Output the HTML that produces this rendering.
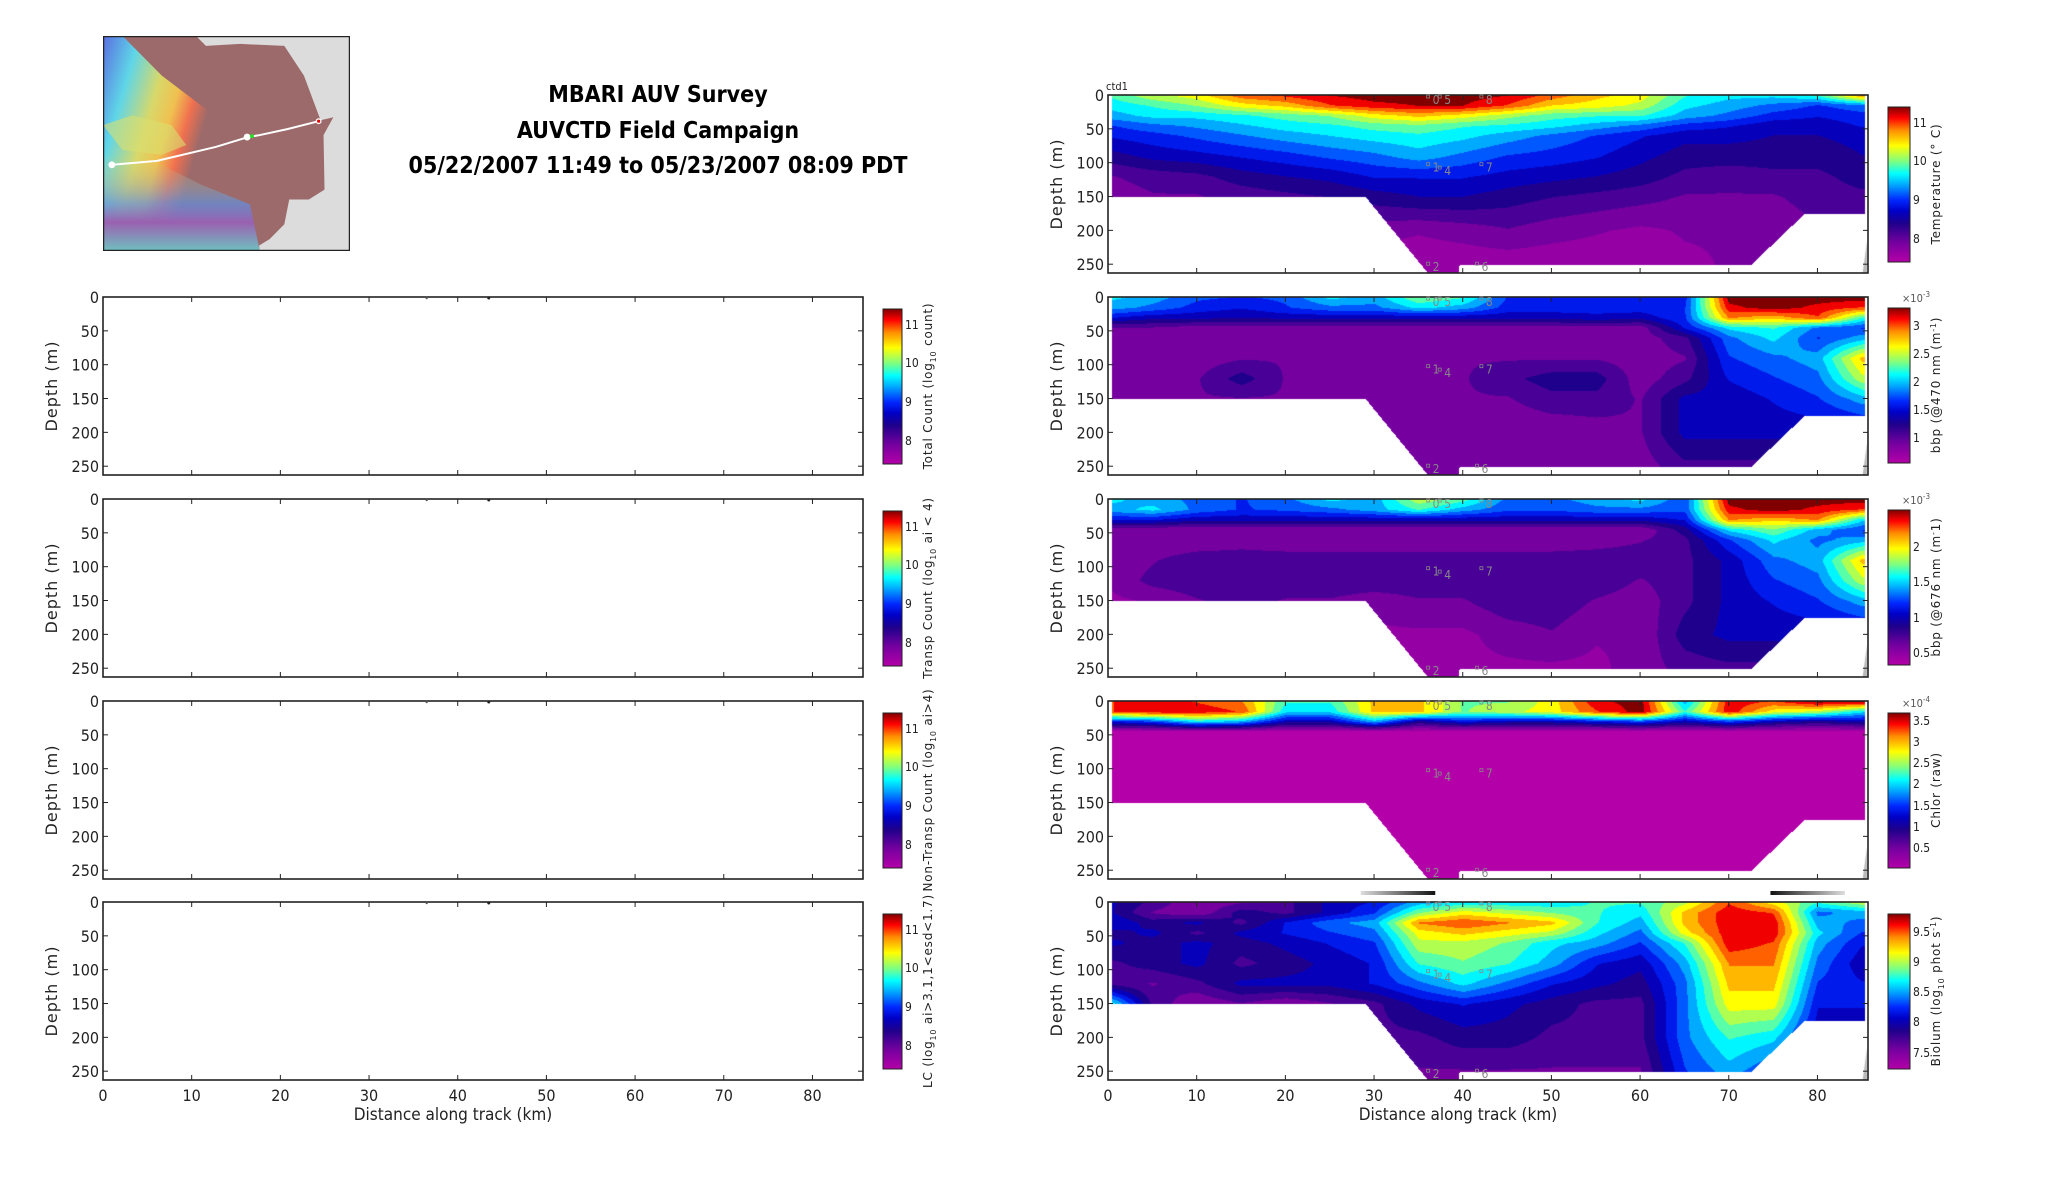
<!DOCTYPE html>
<html><head><meta charset="utf-8">
<style>
html,body{margin:0;padding:0;background:#fff;}
#root{position:relative;width:2052px;height:1188px;overflow:hidden;background:#fff;font-family:"DejaVu Sans Condensed","Liberation Sans Narrow","Liberation Sans",sans-serif;}
canvas{position:absolute;}
#ov{position:absolute;left:0;top:0;}
</style></head>
<body>
<div id="root">
<svg id="map" style="position:absolute;left:103px;top:36px" width="247" height="215" viewBox="0 0 252 217" preserveAspectRatio="none">
<defs>
<linearGradient id="mg" x1="0" y1="0" x2="1" y2="0.4">
<stop offset="0" stop-color="#5a6de0"/><stop offset="0.2" stop-color="#5fd6e8"/><stop offset="0.38" stop-color="#d8d86a"/><stop offset="0.5" stop-color="#f0c050"/><stop offset="0.6" stop-color="#f07050"/><stop offset="0.7" stop-color="#9c6a6a"/>
</linearGradient>
<linearGradient id="mg2" x1="0" y1="0" x2="0" y2="1">
<stop offset="0" stop-color="#e0d070" stop-opacity="0"/><stop offset="0.5" stop-color="#6090e0" stop-opacity="0.7"/><stop offset="0.7" stop-color="#9a60b0"/><stop offset="1" stop-color="#70c0c0"/>
</linearGradient>
</defs>
<rect width="252" height="217" fill="#dcdcdc"/>
<path d="M0,0 L95,0 L105,10 L140,8 L185,10 L205,40 L222,85 L235,82 L225,100 L226,155 L210,165 L190,165 L185,190 L170,205 L150,217 L0,217 Z" fill="#9c6a6a"/>
<path d="M0,0 L20,0 L60,40 L100,70 L130,90 L140,80 L155,100 L150,140 L160,217 L0,217 Z" fill="url(#mg)"/>
<path d="M0,120 L60,130 L100,150 L150,170 L160,217 L0,217 Z" fill="url(#mg2)"/>
<path d="M0,90 L30,80 L70,90 L85,110 L60,120 L20,115 Z" fill="#d8e070" opacity="0.6"/>
<polyline points="9,130 55,126 115,112 148,102 160,100 188,94 220,86" fill="none" stroke="#fff" stroke-width="2"/>
<circle cx="9" cy="130" r="3.5" fill="#fff"/><circle cx="147" cy="102" r="3.5" fill="#fff"/>
<circle cx="152" cy="101" r="2" fill="#20e020"/><circle cx="220" cy="86" r="3" fill="#fff"/><circle cx="220" cy="86" r="1.6" fill="#e00000"/>
<rect x="0.5" y="0.5" width="251" height="216" fill="none" stroke="#222" stroke-width="1.5"/>
</svg>
<div style="position:absolute;left:358px;top:78px;width:600px;text-align:center;font-family:'DejaVu Sans Condensed','Liberation Sans',sans-serif;font-weight:bold;font-size:23px;line-height:35.7px;color:#000">MBARI AUV Survey<br>AUVCTD Field Campaign<br>05/22/2007 11:49 to 05/23/2007 08:09 PDT</div>
<svg id="ov" width="2052" height="1188"></svg>
</div>
<script>
// ---- data ----
const colKm = [0,5,10,15,20,25,30,35,40,45,50,55,60,65,70,75,80,85];
const rowDepth = [0,15,30,45,60,90,120,150,200,250];
const bottomKm = [0.4,29,36,39.5,39.6,72.5,78.5,85.3];
const bottomDepth = [150,150,262,262,250,250,175,175];
const xTicks = [0,10,20,30,40,50,60,70,80];
const yTicks = [0,50,100,150,200,250];
const tempGrid = [
[.6,.7,.75,.88,.92,.97,1,1,1,.97,.88,.8,.75,.6,.55,.55,.6,.85],
[.55,.6,.66,.75,.8,.9,.95,.97,.97,.9,.78,.75,.7,.55,.5,.45,.4,.45],
[.5,.55,.55,.58,.62,.66,.75,.8,.75,.68,.62,.6,.6,.5,.45,.38,.35,.38],
[.4,.45,.48,.52,.56,.58,.62,.64,.6,.58,.55,.5,.45,.38,.35,.3,.3,.35],
[.35,.38,.42,.46,.5,.53,.56,.58,.55,.5,.45,.4,.35,.3,.3,.28,.28,.3],
[.25,.3,.32,.35,.38,.42,.45,.5,.45,.4,.38,.35,.3,.25,.25,.25,.25,.28],
[.15,.18,.2,.25,.28,.3,.35,.35,.35,.32,.3,.28,.25,.2,.18,.2,.2,.25],
[.12,.15,.15,.18,.2,.22,.25,.28,.28,.25,.22,.2,.18,.15,.15,.15,.18,.2],
[.1,.1,.1,.1,.1,.1,.12,.1,.12,.15,.12,.1,.08,.1,.1,.12,.15,.15],
[.05,.05,.05,.05,.05,.05,.05,.05,.05,.05,.05,.05,.05,.08,.1,.1,.1,.1]];
const bbp470Grid = [
[.55,.5,.42,.4,.42,.55,.5,.65,.6,.4,.4,.4,.38,.38,1,1,1,1],
[.5,.45,.38,.35,.4,.45,.45,.55,.5,.38,.38,.38,.38,.4,.95,1,.95,.9],
[.35,.3,.3,.28,.3,.3,.3,.3,.3,.3,.3,.32,.3,.4,.85,.8,.9,.6],
[.15,.15,.12,.12,.12,.12,.12,.12,.12,.12,.12,.12,.12,.35,.55,.6,.45,.4],
[.15,.12,.12,.12,.12,.12,.15,.15,.15,.15,.15,.15,.12,.2,.45,.55,.4,.5],
[.15,.12,.12,.15,.15,.15,.15,.15,.15,.15,.15,.15,.12,.15,.4,.45,.5,.8],
[.12,.15,.15,.25,.15,.15,.15,.15,.15,.2,.25,.25,.12,.2,.35,.4,.45,.7],
[.12,.15,.15,.15,.15,.15,.15,.15,.15,.15,.2,.2,.15,.3,.3,.35,.4,.5],
[.1,.1,.1,.1,.1,.1,.1,.1,.12,.1,.1,.12,.15,.3,.3,.3,.3,.3],
[.1,.1,.1,.1,.1,.1,.1,.15,.1,.1,.1,.1,.12,.2,.2,.2,.2,.2]];
const bbp676Grid = [
[.55,.5,.45,.4,.45,.55,.5,.7,.62,.45,.45,.5,.55,.42,1,1,1,1],
[.5,.55,.45,.4,.42,.45,.5,.6,.5,.42,.42,.45,.45,.42,.95,1,.95,.9],
[.35,.35,.3,.3,.3,.3,.3,.3,.3,.3,.3,.3,.3,.35,.85,.8,.85,.55],
[.1,.1,.1,.1,.1,.1,.1,.1,.1,.1,.1,.1,.1,.25,.55,.65,.5,.4],
[.1,.1,.1,.12,.1,.1,.1,.1,.1,.1,.1,.12,.15,.2,.4,.55,.45,.5],
[.1,.15,.2,.2,.2,.2,.2,.2,.2,.2,.2,.2,.2,.2,.3,.45,.5,.8],
[.1,.18,.2,.2,.2,.2,.2,.2,.2,.2,.2,.2,.15,.2,.3,.4,.45,.7],
[.08,.1,.15,.18,.15,.15,.12,.15,.15,.2,.2,.15,.12,.2,.3,.35,.4,.5],
[.08,.08,.08,.08,.08,.08,.08,.08,.08,.12,.15,.1,.1,.25,.3,.3,.3,.3],
[.08,.08,.08,.08,.08,.08,.08,.08,.08,.08,.08,.08,.12,.18,.2,.2,.2,.2]];
const chlorGrid = [
[.9,.95,.9,.85,.6,.6,.8,.8,.65,.65,.75,.95,1,.5,.95,.9,1,1],
[.9,.95,.95,.9,.55,.55,.8,.8,.65,.7,.75,.9,1,.6,.95,.75,.7,.55],
[.35,.4,.55,.5,.3,.3,.5,.25,.35,.3,.3,.35,.4,.3,.4,.3,.25,.3],
[0,0,0,0,0,0,0,0,0,0,0,0,0,0,0,0,0,0],
[0,0,0,0,0,0,0,0,0,0,0,0,0,0,0,0,0,0],
[0,0,0,0,0,0,0,0,0,0,0,0,0,0,0,0,0,0],
[0,0,0,0,0,0,0,0,0,0,0,0,0,0,0,0,0,0],
[0,0,0,0,0,0,0,0,0,0,0,0,0,0,0,0,0,0],
[0,0,0,0,0,0,0,0,0,0,0,0,0,0,0,0,0,0],
[0,0,0,0,0,0,0,0,0,0,0,0,0,0,0,0,0,0]];
const biolumGrid = [
[.3,.2,.1,.15,.2,.3,.35,.5,.55,.55,.55,.6,.6,.7,.9,.75,.6,.7],
[.3,.15,.1,.25,.2,.3,.4,.65,.75,.7,.65,.6,.55,.8,.95,.9,.45,.5],
[.35,.25,.3,.2,.35,.45,.5,.85,.9,.85,.8,.6,.5,.8,.95,.95,.5,.45],
[.25,.3,.2,.3,.35,.4,.45,.75,.8,.75,.7,.55,.45,.75,.95,.95,.55,.4],
[.3,.25,.3,.25,.3,.35,.4,.7,.7,.65,.55,.5,.4,.6,.95,.9,.5,.35],
[.2,.25,.3,.2,.25,.3,.35,.6,.65,.6,.5,.35,.3,.5,.85,.85,.45,.3],
[.2,.15,.2,.3,.3,.3,.35,.45,.55,.45,.35,.3,.25,.45,.8,.8,.4,.35],
[.6,.2,.1,.15,.1,.15,.2,.3,.35,.3,.25,.2,.2,.45,.75,.75,.35,.35],
[.2,.2,.2,.2,.2,.2,.2,.2,.25,.25,.2,.2,.2,.45,.6,.55,.3,.3],
[.15,.15,.15,.15,.15,.15,.15,.15,.15,.15,.15,.15,.15,.4,.5,.4,.3,.3]];
const tempTicks = ['11','10','9','8'];
const bbp470Ticks = ['3','2.5','2','1.5','1'];
const bbp676Ticks = ['2','1.5','1','0.5'];
const chlorTicks = ['3.5','3','2.5','2','1.5','1','0.5'];
const biolumTicks = ['9.5','9','8.5','8','7.5'];

// ---- layout ----
const XMAX=85.7, YMAX=263, PW=760, PH=178;
const rightTops=[95,297,499,701,902], leftTops=[297,499,701,902];
const XR=1108, XL=103;
const CBR=1888, CBL=883;
const stops=[[0,[180,0,168]],[0.12,[120,0,160]],[0.25,[30,0,140]],[0.33,[0,0,200]],[0.4,[0,40,255]],[0.5,[0,170,255]],[0.57,[0,255,255]],[0.65,[128,255,128]],[0.75,[255,255,0]],[0.85,[255,140,0]],[0.93,[255,0,0]],[1,[128,0,0]]];
function cmap(v){v=Math.max(0,Math.min(1,v));for(let i=1;i<stops.length;i++){if(v<=stops[i][0]){const a=stops[i-1],b=stops[i];const t=(v-a[0])/(b[0]-a[0]);return [0,1,2].map(k=>Math.round(a[1][k]+(b[1][k]-a[1][k])*t));}}return stops[stops.length-1][1];}
function xs(km){return km/XMAX*PW;}
function ys(d){return d/YMAX*PH;}
function bottomAt(km){if(km<bottomKm[0]||km>bottomKm[bottomKm.length-1])return -1;for(let i=1;i<bottomKm.length;i++){if(km<=bottomKm[i]){const t=(km-bottomKm[i-1])/(bottomKm[i]-bottomKm[i-1]||1);return bottomDepth[i-1]+(bottomDepth[i]-bottomDepth[i-1])*t;}}return -1;}
function sample(g,km,d){let ci=Math.min(colKm.length-2,Math.floor(km/5));let tc=(km-colKm[ci])/5;tc=Math.max(0,Math.min(1,tc));let ri=0;while(ri<rowDepth.length-2&&d>rowDepth[ri+1])ri++;let tr=(d-rowDepth[ri])/(rowDepth[ri+1]-rowDepth[ri]);tr=Math.max(0,Math.min(1,tr));const a=g[ri][ci]*(1-tc)+g[ri][ci+1]*tc;const b=g[ri+1][ci]*(1-tc)+g[ri+1][ci+1]*tc;return a*(1-tr)+b*tr;}
const root=document.getElementById('root');
function drawField(g,top,name){const c=document.createElement('canvas');c.width=PW;c.height=PH;c.style.left=XR+'px';c.style.top=top+'px';


root.insertBefore(c,document.getElementById('ov'));const ctx=c.getContext('2d');const im=ctx.createImageData(PW,PH);
for(let px=0;px<PW;px++){const km=px/PW*XMAX;const bd=bottomAt(km);for(let py=0;py<PH;py++){const d=py/PH*YMAX;const o=(py*PW+px)*4;if(bd<0||d>bd){im.data[o]=255;im.data[o+1]=255;im.data[o+2]=255;im.data[o+3]=255;continue;}let v=sample(g,km,d);v=Math.round(v*16)/16;const col=cmap(v);im.data[o]=col[0];im.data[o+1]=col[1];im.data[o+2]=col[2];im.data[o+3]=255;}}
ctx.putImageData(im,0,0);
ctx.fillStyle='#b8b8b8';ctx.beginPath();ctx.moveTo(xs(85.1),PH);ctx.lineTo(xs(85.6),ys(215));ctx.lineTo(xs(85.6),PH);ctx.fill();}
drawField(tempGrid,rightTops[0],'temperature-heatmap');
drawField(bbp470Grid,rightTops[1],'bbp470-heatmap');
drawField(bbp676Grid,rightTops[2],'bbp676-heatmap');
drawField(chlorGrid,rightTops[3],'chlor-heatmap');
drawField(biolumGrid,rightTops[4],'biolum-heatmap');

const ov=document.getElementById('ov');const NS='http://www.w3.org/2000/svg';
function el(tag,attrs,parent,text){const e=document.createElementNS(NS,tag);for(const k in attrs)e.setAttribute(k,attrs[k]);if(text!==undefined)e.textContent=text;(parent||ov).appendChild(e);return e;}
function axes(x0,top,name,showX){const g=el('g',{});


el('rect',{x:x0,y:top,width:PW,height:PH,fill:'none',stroke:'#222','stroke-width':1.6},g);
xTicks.forEach(t=>{const x=x0+xs(t);el('line',{x1:x,y1:top,x2:x,y2:top+5,stroke:'#222'},g);el('line',{x1:x,y1:top+PH,x2:x,y2:top+PH-5,stroke:'#222'},g);
if(showX){const tl=el('text',{x:x,y:top+PH+21,'text-anchor':'middle','font-size':16,fill:'#222'},g,String(t));

}});
yTicks.forEach(t=>{const y=top+ys(t);el('line',{x1:x0,y1:y,x2:x0+5,y2:y,stroke:'#222'},g);el('line',{x1:x0+PW,y1:y,x2:x0+PW-5,y2:y,stroke:'#222'},g);
const tl=el('text',{x:x0-4,y:y+6,'text-anchor':'end','font-size':16,fill:'#222'},g,String(t));

});
const yl=el('text',{transform:`translate(${x0-46},${top+PH/2}) rotate(-90)`,'text-anchor':'middle','font-size':16,'font-family':'DejaVu Sans, sans-serif','letter-spacing':'1',fill:'#222'},g,'Depth (m)');


if(showX){const xl=el('text',{x:x0+PW/2-30,y:top+PH+40,'text-anchor':'middle','font-size':17,fill:'#222'},g,'Distance along track (km)');

}
[[36.5,3,'0'],[37.8,3,'5'],[42.5,3,'8'],[36.5,103,'1'],[37.8,108,'4'],[42.5,103,'7'],[36.5,250,'2'],[42,250,'6']].forEach(s=>{const x=x0+xs(s[0]),y=top+ys(s[1]);
if(x0===XR){el('rect',{x:x-5,y:y-2,width:3,height:3,fill:'none',stroke:'#888','stroke-width':0.8},g);el('text',{x:x+1,y:y+7,'font-size':12,fill:'#888'},g,s[2]);}});}
function colorbar(x,top,w,label,ticks,offs,name,exp){const g=el('g',{});


const cid='cb'+name;const lg=el('linearGradient',{id:cid,x1:0,y1:1,x2:0,y2:0},g);stops.forEach(s=>el('stop',{offset:s[0],'stop-color':`rgb(${s[1].join(',')})`},lg));
el('rect',{x:x,y:top,width:w,height:155,fill:`url(#${cid})`,stroke:'#222','stroke-width':1},g);
ticks.forEach((t,i)=>{el('text',{x:x+w+3,y:top+offs[i]+5,'font-size':12,fill:'#222'},g,t);});
const lb=el('text',{transform:`translate(${x+w+30},${top+77}) rotate(-90)`,'text-anchor':'middle','font-size':12,'font-family':'DejaVu Sans, sans-serif','letter-spacing':'0.8',fill:'#222'},g);lb.innerHTML=label;


if(exp){const e=el('text',{x:x+w-8,y:top-6,'font-size':11,fill:'#555'},g);e.innerHTML='\u00d710<tspan dy="-5" font-size="8">'+exp+'</tspan>';}}
const tOff=[15,53,92,131];
axes(XR,rightTops[0],'temperature-panel',false);
axes(XR,rightTops[1],'bbp470-panel',false);
axes(XR,rightTops[2],'bbp676-panel',false);
axes(XR,rightTops[3],'chlor-panel',false);
axes(XR,rightTops[4],'biolum-panel',true);
const ctd=el('text',{x:XR-2,y:rightTops[0]-5,'font-size':11,fill:'#222'},ov,'ctd1');


colorbar(CBR,rightTops[0]+12,22,'Temperature (° C)',tempTicks,tOff,'temperature-colorbar');
colorbar(CBR,rightTops[1]+11,22,'bbp (@470 nm (m<tspan dy="-4" font-size="8">-1</tspan><tspan dy="4">)</tspan>',bbp470Ticks,[17,45,73,101,129],'bbp470-colorbar','-3');
colorbar(CBR,rightTops[2]+11,22,'bbp (@676 nm (m<tspan dy="-4" font-size="8">-</tspan><tspan dy="4">1)</tspan>',bbp676Ticks,[36,71,107,142],'bbp676-colorbar','-3');
colorbar(CBR,rightTops[3]+12,22,'Chlor (raw)',chlorTicks,[7,28,49,70,92,113,134],'chlor-colorbar','-4');
colorbar(CBR,rightTops[4]+12,22,'Biolum (log<tspan dy="4" font-size="8">10</tspan><tspan dy="-4"> phot s</tspan><tspan dy="-4" font-size="8">-1</tspan><tspan dy="4">)</tspan>',biolumTicks,[17,47,77,107,138],'biolum-colorbar');
const leftNames=['total-count','transp-count','nontransp-count','lc'];
const leftLabels=['Total Count (log<tspan dy="4" font-size="8">10</tspan><tspan dy="-4"> count)</tspan>','Transp Count (log<tspan dy="4" font-size="8">10</tspan><tspan dy="-4"> ai &lt; 4)</tspan>','Non-Transp Count (log<tspan dy="4" font-size="8">10</tspan><tspan dy="-4"> ai&gt;4)</tspan>','LC (log<tspan dy="4" font-size="8">10</tspan><tspan dy="-4"> ai&gt;3.1,1&lt;esd&lt;1.7)</tspan>'];
leftTops.forEach((t,i)=>{axes(XL,t,leftNames[i]+'-panel',i===3);colorbar(CBL,t+12,19,leftLabels[i],tempTicks,tOff,leftNames[i]+'-colorbar');
el('circle',{cx:XL+xs(36.5),cy:t+1,r:1.2,fill:'#555'});el('circle',{cx:XL+xs(43.5),cy:t+1,r:1.5,fill:'#222'});});
function gbar(k0,k1,rev){const lg=el('linearGradient',{id:'gb'+k0,x1:rev?1:0,y1:0,x2:rev?0:1,y2:0});el('stop',{offset:0,'stop-color':'#ddd'},lg);el('stop',{offset:1,'stop-color':'#111'},lg);
const r=el('rect',{x:XR+xs(k0),y:891,width:xs(k1-k0),height:4,fill:'url(#gb'+k0+')'});

}
gbar(28.5,36.9,false);gbar(74.7,83.1,true);
</script>
</body></html>
